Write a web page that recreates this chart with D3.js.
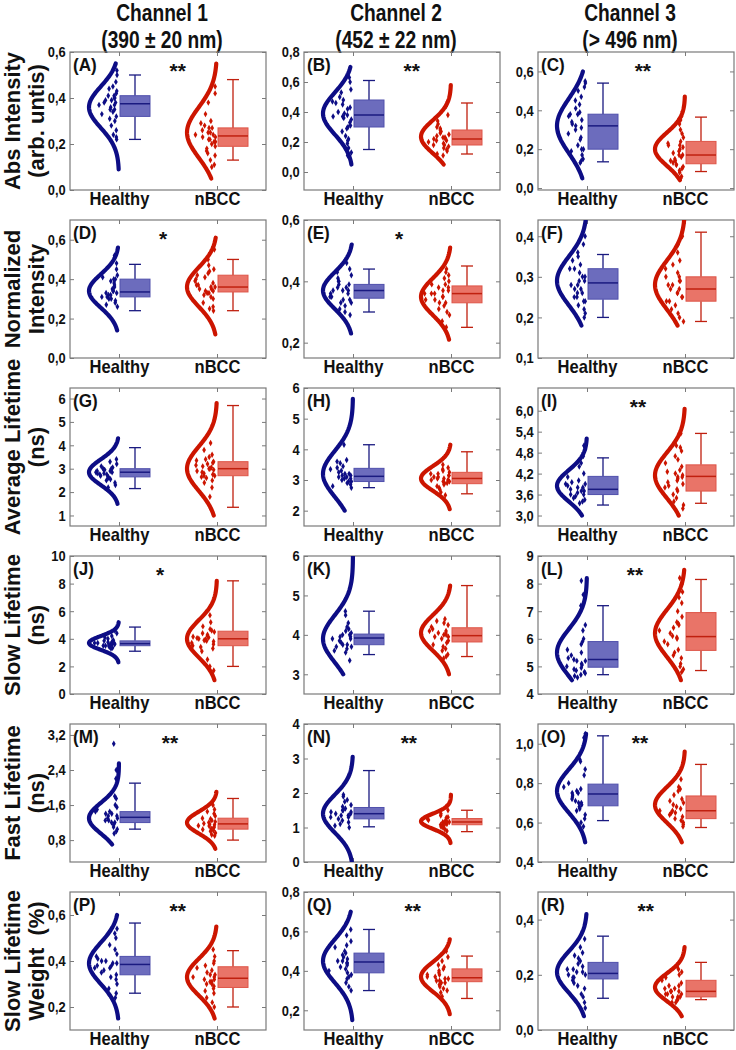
<!DOCTYPE html>
<html>
<head>
<meta charset="utf-8">
<script src="https://cdn.jsdelivr.net/npm/d3@7"></script>
<style>
  body { margin: 0; background: #fff; }
  text { font-family: "Liberation Sans", Arial, sans-serif; font-weight: bold; fill: #111; }
</style>
</head>
<body>
<svg id="chart"></svg>
<script>
// ---- data ----
const channelTitles = [["Channel 1", "(390 ± 20 nm)"], ["Channel 2", "(452 ± 22 nm)"], ["Channel 3", "(> 496 nm)"]];
const rowLabels = [["Abs Intensity", "(arb. untis)"], ["Normalized", "Intensity"], ["Average Lifetime", "(ns)"],
                   ["Slow Lifetime", "(ns)"], ["Fast Lifetime", "(ns)"], ["Slow Lifetime", "Weight  (%)"]];
const groups = ["Healthy", "nBCC"];
const panelLetters = ["A","B","C","D","E","F","G","H","I","J","K","L","M","N","O","P","Q","R"];
const sigMarks = ["**","**","**","*","*","","","","**","*","","**","**","**","**","**","**","**"];

const yDomains = [[0,0.6],[-0.12,0.8],[-0.01,0.7],[0,0.7],[0.15,0.6],[0.1,0.44],
                  [0.55,6.45],[1.5,6],[2.7,6.65],[0,10],[2.5,6],[4,9],
                  [0.3,3.45],[0,4],[0.4,1.1],[0.1,0.7],[0.1,0.8],[0,0.5]];
const yTicks = [[0,0.2,0.4,0.6],[0,0.2,0.4,0.6,0.8],[0,0.2,0.4,0.6],[0,0.2,0.4,0.6],[0.2,0.4,0.6],[0.1,0.2,0.3,0.4],
                [1,2,3,4,5,6],[2,3,4,5,6],[3,3.6,4.2,4.8,5.4,6],[0,2,4,6,8,10],[3,4,5,6],[4,5,6,7,8,9],
                [0.8,1.6,2.4,3.2],[0,1,2,3,4],[0.4,0.6,0.8,1],[0.2,0.4,0.6],[0.2,0.4,0.6,0.8],[0,0.2,0.4]];
const tickDecimals = [1,1,1,1,1,1, 0,0,1,0,0,0, 1,0,1,1,1,1];

// fitted normal curve: [mean, sd, from, to]
const healthyCurve = [[0.36,0.09,0.09,0.55],[0.39,0.14,0.05,0.70],[0.32,0.14,0.05,0.60],
                      [0.34,0.085,0.14,0.56],[0.37,0.06,0.23,0.52],[0.29,0.06,0.18,0.44],
                      [2.85,0.55,1.5,4.3],[3.2,0.75,2.0,5.65],[3.85,0.45,3.0,5.2],
                      [3.7,0.5,2.3,5.2],[3.9,0.6,3.0,6.0],[5.5,0.85,4.5,8.2],
                      [1.3,0.35,0.7,2.55],[1.4,0.55,0.0,3.05],[0.76,0.11,0.5,1.05],
                      [0.39,0.09,0.15,0.60],[0.45,0.11,0.15,0.70],[0.21,0.075,0.05,0.42]];
const nbccCurve = [[0.25,0.11,0.05,0.55],[0.235,0.11,0.05,0.58],[0.20,0.085,0.04,0.47],
                   [0.36,0.10,0.12,0.61],[0.35,0.06,0.21,0.51],[0.28,0.06,0.18,0.44],
                   [3.0,0.95,1.0,5.8],[3.05,0.4,2.05,4.15],[4.15,0.65,3.0,6.05],
                   [4.0,1.35,1.0,8.2],[4.05,0.45,3.0,5.25],[6.2,0.85,4.5,8.5],
                   [1.2,0.25,0.6,1.9],[1.18,0.22,0.55,1.95],[0.69,0.09,0.5,0.96],
                   [0.33,0.08,0.15,0.55],[0.37,0.075,0.18,0.56],[0.155,0.05,0.05,0.30]];

// box: [whisker low, q1, median, q3, whisker high]
const healthyBox = [[0.22,0.32,0.375,0.41,0.50],[0.15,0.30,0.38,0.48,0.61],[0.135,0.20,0.32,0.38,0.54],
                    [0.24,0.31,0.335,0.40,0.475],[0.30,0.345,0.37,0.39,0.44],[0.20,0.245,0.285,0.32,0.355],
                    [2.15,2.65,2.85,3.0,3.9],[2.75,2.95,3.12,3.38,4.15],[3.3,3.6,3.75,4.12,4.65],
                    [3.1,3.5,3.65,3.85,4.85],[3.5,3.75,3.92,4.02,4.6],[4.7,4.97,5.25,5.9,7.2],
                    [1.05,1.2,1.32,1.45,2.1],[1.02,1.25,1.4,1.58,2.65],[0.61,0.685,0.745,0.795,1.04],
                    [0.26,0.34,0.385,0.42,0.565],[0.30,0.39,0.445,0.49,0.61],[0.115,0.185,0.205,0.245,0.34]];
const nbccBox = [[0.13,0.19,0.235,0.27,0.48],[0.12,0.18,0.22,0.28,0.46],[0.085,0.125,0.17,0.24,0.365],
                 [0.24,0.335,0.36,0.42,0.50],[0.25,0.33,0.36,0.385,0.45],[0.19,0.24,0.27,0.30,0.41],
                 [1.35,2.7,3.0,3.3,5.7],[2.55,2.88,3.05,3.25,3.92],[3.35,3.7,4.12,4.45,5.35],
                 [2.0,3.5,4.0,4.55,8.2],[3.45,3.82,3.98,4.18,5.25],[4.85,5.58,6.08,6.95,8.15],
                 [0.8,1.05,1.17,1.3,1.75],[0.88,1.08,1.16,1.26,1.5],[0.575,0.62,0.66,0.735,0.895],
                 [0.20,0.285,0.325,0.375,0.445],[0.26,0.345,0.365,0.41,0.475],[0.11,0.12,0.14,0.18,0.245]];

const healthyPoints = [
  [0.52,0.50,0.47,0.45,0.44,0.43,0.42,0.41,0.41,0.40,0.40,0.39,0.39,0.38,0.38,0.37,0.37,0.36,0.35,0.35,0.34,0.33,0.32,0.31,0.30,0.28,0.26,0.24,0.23,0.22],
  [0.63,0.60,0.55,0.53,0.50,0.48,0.47,0.46,0.45,0.43,0.42,0.40,0.39,0.38,0.37,0.37,0.36,0.35,0.33,0.31,0.30,0.29,0.27,0.24,0.22,0.21,0.19,0.16,0.13,0.11],
  [0.55,0.54,0.52,0.50,0.47,0.45,0.43,0.41,0.39,0.38,0.38,0.37,0.35,0.34,0.33,0.32,0.31,0.30,0.28,0.26,0.25,0.22,0.20,0.20,0.19,0.17,0.15,0.14,0.13],
  [0.52,0.48,0.45,0.42,0.41,0.40,0.40,0.39,0.38,0.37,0.36,0.35,0.34,0.34,0.33,0.33,0.32,0.32,0.31,0.31,0.30,0.30,0.29,0.28,0.27,0.26],
  [0.46,0.44,0.43,0.42,0.41,0.40,0.40,0.39,0.39,0.38,0.38,0.37,0.37,0.37,0.36,0.36,0.35,0.35,0.34,0.34,0.33,0.33,0.32,0.31,0.30,0.29],
  [0.40,0.38,0.36,0.35,0.34,0.33,0.32,0.32,0.31,0.30,0.30,0.29,0.29,0.28,0.28,0.27,0.27,0.26,0.26,0.25,0.25,0.24,0.24,0.23,0.22,0.21,0.20],
  [3.40,3.30,3.20,3.10,3.05,3.00,3.00,2.95,2.95,2.90,2.90,2.85,2.85,2.80,2.80,2.75,2.75,2.70,2.65,2.60,2.55,2.50,2.40,2.30,2.20],
  [4.15,3.65,3.60,3.55,3.45,3.40,3.35,3.30,3.25,3.20,3.20,3.15,3.15,3.10,3.10,3.05,3.05,3.00,2.95,2.95,2.90,2.85,2.80,2.75],
  [5.00,4.90,4.70,4.50,4.40,4.20,4.10,4.00,3.95,3.90,3.90,3.85,3.80,3.80,3.75,3.70,3.70,3.65,3.60,3.60,3.55,3.50,3.45,3.40,3.35],
  [4.60,4.40,4.20,4.10,4.00,3.90,3.85,3.80,3.75,3.70,3.70,3.65,3.65,3.60,3.60,3.55,3.50,3.50,3.45,3.40,3.35,3.30],
  [4.60,4.50,4.30,4.20,4.15,4.10,4.05,4.00,4.00,3.95,3.95,3.90,3.90,3.85,3.80,3.75,3.75,3.70,3.70,3.65,3.60,3.55,3.35],
  [8.10,7.60,7.20,6.50,6.30,6.00,5.90,5.80,5.60,5.50,5.40,5.30,5.25,5.20,5.20,5.10,5.05,5.00,4.95,4.90,4.85,4.80,4.75,4.70,4.65,4.60],
  [3.00,2.40,2.20,1.80,1.75,1.60,1.55,1.50,1.45,1.45,1.40,1.40,1.35,1.35,1.30,1.30,1.25,1.25,1.20,1.20,1.15,1.10,1.05,1.00,0.95],
  [1.95,1.90,1.80,1.75,1.65,1.60,1.55,1.50,1.50,1.45,1.45,1.40,1.40,1.35,1.35,1.30,1.30,1.25,1.20,1.15,1.10,1.05,1.00],
  [1.05,1.03,0.92,0.91,0.87,0.84,0.80,0.78,0.77,0.76,0.75,0.75,0.74,0.73,0.72,0.71,0.70,0.70,0.69,0.68,0.67,0.66,0.64,0.62,0.60,0.58],
  [0.54,0.52,0.50,0.47,0.45,0.43,0.42,0.41,0.40,0.40,0.39,0.39,0.38,0.38,0.37,0.37,0.36,0.35,0.34,0.33,0.32,0.30,0.28,0.26,0.24],
  [0.61,0.58,0.55,0.53,0.52,0.50,0.49,0.48,0.47,0.46,0.45,0.45,0.44,0.44,0.43,0.42,0.41,0.40,0.39,0.38,0.37,0.36,0.34,0.32,0.30],
  [0.33,0.30,0.28,0.27,0.26,0.25,0.24,0.23,0.22,0.22,0.21,0.21,0.20,0.20,0.19,0.19,0.18,0.17,0.16,0.15,0.13,0.12,0.10,0.08]
];
const nbccPoints = [
  [0.45,0.42,0.38,0.33,0.30,0.29,0.28,0.27,0.27,0.26,0.25,0.25,0.24,0.24,0.23,0.23,0.22,0.22,0.21,0.21,0.20,0.19,0.18,0.17,0.16,0.15,0.13,0.11,0.10],
  [0.47,0.44,0.38,0.34,0.32,0.30,0.29,0.28,0.27,0.26,0.25,0.24,0.23,0.23,0.22,0.22,0.21,0.21,0.20,0.19,0.18,0.18,0.17,0.16,0.15,0.14,0.12,0.11],
  [0.37,0.35,0.33,0.30,0.28,0.26,0.24,0.23,0.22,0.22,0.21,0.20,0.19,0.18,0.17,0.17,0.16,0.15,0.14,0.14,0.13,0.12,0.12,0.11,0.10,0.09,0.08,0.06,0.05],
  [0.55,0.50,0.47,0.45,0.44,0.43,0.42,0.41,0.40,0.39,0.38,0.37,0.37,0.36,0.36,0.35,0.35,0.34,0.34,0.33,0.33,0.32,0.31,0.30,0.28,0.26,0.25,0.24],
  [0.44,0.43,0.42,0.41,0.40,0.39,0.39,0.38,0.38,0.37,0.37,0.36,0.36,0.36,0.35,0.35,0.34,0.34,0.33,0.33,0.32,0.31,0.30,0.29,0.27,0.25],
  [0.40,0.38,0.36,0.34,0.33,0.32,0.31,0.30,0.30,0.29,0.29,0.28,0.28,0.27,0.27,0.26,0.26,0.25,0.25,0.24,0.24,0.23,0.22,0.21,0.20,0.19],
  [4.10,3.80,3.60,3.50,3.40,3.35,3.30,3.25,3.20,3.15,3.10,3.05,3.00,3.00,2.95,2.90,2.85,2.80,2.75,2.70,2.70,2.65,2.60,2.50,2.40,2.20,1.80,1.30],
  [3.50,3.40,3.35,3.30,3.25,3.20,3.20,3.15,3.15,3.10,3.10,3.05,3.05,3.00,3.00,2.95,2.95,2.90,2.90,2.85,2.80,2.75,2.70,2.60,2.50],
  [5.35,5.00,4.95,4.85,4.70,4.60,4.50,4.40,4.30,4.25,4.20,4.15,4.10,4.10,4.05,4.00,3.95,3.90,3.85,3.80,3.75,3.70,3.60,3.50,3.40,3.30,3.20],
  [5.70,5.20,4.90,4.70,4.60,4.50,4.40,4.30,4.20,4.15,4.10,4.05,4.00,3.95,3.90,3.85,3.80,3.70,3.60,3.50,3.40,3.30,3.10,2.50,2.00,1.70],
  [4.40,4.35,4.30,4.25,4.20,4.15,4.10,4.10,4.05,4.05,4.00,4.00,3.95,3.95,3.90,3.85,3.80,3.75,3.70,3.65,3.60,3.50,3.45,3.40],
  [8.20,8.00,7.70,7.50,7.30,7.00,6.80,6.60,6.55,6.50,6.40,6.30,6.20,6.10,6.05,6.00,5.90,5.80,5.60,5.50,5.40,5.30,5.10,5.00,4.90,4.80],
  [1.60,1.50,1.45,1.40,1.35,1.30,1.28,1.25,1.22,1.20,1.18,1.16,1.15,1.13,1.12,1.10,1.08,1.06,1.04,1.02,1.00,0.96,0.92,0.90],
  [1.60,1.50,1.40,1.35,1.30,1.28,1.25,1.22,1.20,1.18,1.17,1.16,1.15,1.14,1.12,1.10,1.08,1.06,1.04,1.02,1.00,0.95,0.90],
  [0.82,0.78,0.77,0.76,0.74,0.72,0.71,0.70,0.69,0.68,0.67,0.66,0.66,0.65,0.65,0.64,0.63,0.62,0.61,0.60,0.59,0.58],
  [0.45,0.42,0.40,0.39,0.38,0.37,0.36,0.35,0.34,0.34,0.33,0.33,0.32,0.32,0.31,0.31,0.30,0.30,0.29,0.28,0.27,0.26,0.24,0.22,0.20],
  [0.50,0.47,0.45,0.43,0.42,0.41,0.40,0.39,0.38,0.38,0.37,0.37,0.36,0.36,0.35,0.35,0.34,0.34,0.33,0.32,0.31,0.30,0.29,0.27],
  [0.23,0.22,0.21,0.20,0.19,0.18,0.17,0.16,0.16,0.15,0.15,0.14,0.14,0.14,0.13,0.13,0.13,0.12,0.12,0.12,0.11,0.11,0.10,0.10]
];

// ---- layout ----
const width = 736, height = 1050;
const colLeft = [70, 304, 538];
const rowTop = [52, 220, 388, 556, 724, 892];
const panelW = 196, panelH = 138;
const sigX = [1.6,1.6,1.57,1.45,1.47,0,0,0,1.52,1.42,0,1.49,1.52,1.57,1.54,1.6,1.61,1.6];
const curveW = 30; // peak width of half-violin (px)

const colors = {
  Healthy: { line: "#0d0d85", fill: "#6c6cbd", stroke: "#5050ac", med: "#1a1a80" },
  nBCC:    { line: "#cc1500", fill: "#e97468", stroke: "#de5548", med: "#c0200f" }
};

const locale = d3.formatLocale({ decimal: ",", thousands: ".", grouping: [3], currency: ["", ""] });

// deterministic horizontal spread of the dots inside the half violin
const spread = (k, i) => {
  const s = Math.sin(k * 78.233 + i * 12.9898 + 1.7) * 43758.5453;
  return s - Math.floor(s);
};

const svg = d3.select("#chart").attr("width", width).attr("height", height);

// column titles (condensed bold)
channelTitles.forEach((t, c) => {
  const cx = colLeft[c] + 92;
  t.forEach((s, k) => {
    svg.append("text")
      .attr("transform", `translate(${cx},${k === 0 ? 21 : 48}) scale(0.8,1)`)
      .attr("text-anchor", "middle")
      .style("font-size", "24px").text(s);
  });
});

// row labels
rowLabels.forEach((lab, r) => {
  const cy = rowTop[r] + panelH / 2 + (r === 2 ? -10 : 0);
  lab.forEach((s, k) => {
    svg.append("text")
      .attr("transform", `translate(${k === 0 ? 20 : 44},${cy}) rotate(-90)`)
      .attr("text-anchor", "middle")
      .style("font-size", "22px")
      .style("white-space", "pre")
      .text(s);
  });
});

const x = d3.scaleLinear().domain([0.5, 2.5]).range([0, panelW]);

panelLetters.forEach((letter, i) => {
  const r = Math.floor(i / 3), c = i % 3;
  const g = svg.append("g").attr("transform", `translate(${colLeft[c]},${rowTop[r]})`);
  const y = d3.scaleLinear().domain(yDomains[i]).range([panelH, 0]);
  const fmt = locale.format(tickDecimals[i] ? ".1f" : "d");

  // frame
  g.append("rect").attr("width", panelW).attr("height", panelH)
    .attr("fill", "none").attr("stroke", "#7a7a7a").attr("stroke-width", 1.2);

  // y axis (left) with inward ticks, mirrored on right
  const ya = g.append("g").call(d3.axisLeft(y).tickValues(yTicks[i]).tickSize(-4).tickPadding(5).tickFormat(fmt));
  ya.select(".domain").remove();
  ya.selectAll("line").attr("stroke", "#7a7a7a");
  ya.selectAll("text").style("font-size", "15px").style("font-family", "Liberation Sans, Arial, sans-serif")
    .style("font-weight", "bold").attr("fill", "#111").attr("transform", "scale(0.86,1)");
  const yr = g.append("g").attr("transform", `translate(${panelW},0)`)
    .call(d3.axisRight(y).tickValues(yTicks[i]).tickSize(-4).tickFormat(""));
  yr.select(".domain").remove();
  yr.selectAll("line").attr("stroke", "#7a7a7a");

  // x axis (bottom) with category labels
  const xa = g.append("g").attr("transform", `translate(0,${panelH})`)
    .call(d3.axisBottom(x).tickValues([1, 2]).tickSize(-4).tickPadding(2).tickFormat((d) => groups[d - 1]));
  xa.select(".domain").remove();
  xa.selectAll("line").attr("stroke", "#7a7a7a");
  xa.selectAll("text").style("font-size", "18px").style("font-family", "Liberation Sans, Arial, sans-serif")
    .style("font-weight", "bold").attr("fill", "#111").attr("transform", "scale(0.92,1)");
  const xt = g.append("g").call(d3.axisTop(x).tickValues([1, 2]).tickSize(-4).tickFormat(""));
  xt.select(".domain").remove();
  xt.selectAll("line").attr("stroke", "#7a7a7a");

  const clip = `clip${i}`;
  g.append("clipPath").attr("id", clip).append("rect").attr("width", panelW).attr("height", panelH);
  const plot = g.append("g").attr("clip-path", `url(#${clip})`);

  const sets = [
    { name: "Healthy", pos: 1, curve: healthyCurve[i], box: healthyBox[i], pts: healthyPoints[i] },
    { name: "nBCC", pos: 2, curve: nbccCurve[i], box: nbccBox[i], pts: nbccPoints[i] }
  ];

  sets.forEach((s, si) => {
    const col = colors[s.name];
    const x0 = x(s.pos);
    const [mu, sd, lo, hi] = s.curve;
    const wAt = (v) => curveW * Math.exp(-0.5 * ((v - mu) / sd) ** 2);

    // half violin (normal fit)
    const ys = d3.range(0, 101).map((k) => lo + (hi - lo) * k / 100);
    plot.append("path")
      .attr("d", d3.line().x((v) => x0 - wAt(v)).y((v) => y(v))(ys))
      .attr("fill", "none").attr("stroke", col.line).attr("stroke-width", 4.2)
      .attr("stroke-linecap", "round");

    // data points
    plot.selectAll(null).data(s.pts).enter().append("path")
      .attr("d", d3.symbol(d3.symbolDiamond).size(12))
      .attr("transform", (v, k) => {
        const f = Math.sqrt(spread(k, i * 2 + si));
        const w = Math.max(wAt(v), 9);
        return `translate(${x0 - 1.5 - (1 - f) * (w - 3)},${y(v)})`;
      })
      .attr("fill", col.line);

    // box plot
    const [wl, q1, med, q3, wh] = s.box;
    const bx = x0 + 1, bw = 30, cx = bx + bw / 2;
    plot.append("line").attr("x1", cx).attr("x2", cx).attr("y1", y(wl)).attr("y2", y(q1))
      .attr("stroke", col.med).attr("stroke-width", 1.3);
    plot.append("line").attr("x1", cx).attr("x2", cx).attr("y1", y(q3)).attr("y2", y(wh))
      .attr("stroke", col.med).attr("stroke-width", 1.3);
    [wl, wh].forEach((v) => {
      plot.append("line").attr("x1", cx - 6).attr("x2", cx + 6).attr("y1", y(v)).attr("y2", y(v))
        .attr("stroke", col.med).attr("stroke-width", 1.3);
    });
    plot.append("rect").attr("x", bx).attr("y", y(q3)).attr("width", bw).attr("height", y(q1) - y(q3))
      .attr("fill", col.fill).attr("stroke", col.stroke).attr("stroke-width", 1);
    plot.append("line").attr("x1", bx).attr("x2", bx + bw).attr("y1", y(med)).attr("y2", y(med))
      .attr("stroke", col.med).attr("stroke-width", 1.5);
  });

  // panel letter and significance
  g.append("text").attr("transform", "translate(3,19) scale(0.9,1)").style("font-size", "19px").text(`(${letter})`);
  if (sigMarks[i]) {
    g.append("text").attr("x", x(sigX[i])).attr("y", 26).attr("text-anchor", "middle")
      .style("font-size", "21px").text(sigMarks[i]);
  }
});
</script>
</body>
</html>
